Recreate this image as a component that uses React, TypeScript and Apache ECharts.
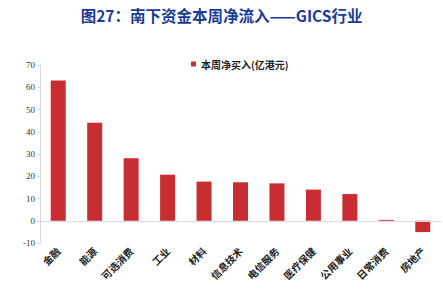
import React, { useEffect, useRef } from "react";
import * as echarts from "echarts";

const categories = ["金融", "能源", "可选消费", "工业", "材料", "信息技术", "电信服务", "医疗保健", "公用事业", "日常消费", "房地产"];
const netBuy = [63.0, 44.0, 28.1, 20.7, 17.6, 17.3, 16.8, 14.0, 12.0, 0.4, -5.1];
const seriesName = "本周净买入(亿港元)";
const titleText = "图27：南下资金本周净流入——GICS行业";

export default function App() {
  const ref = useRef<HTMLDivElement>(null);
  useEffect(() => {
    document.body.style.margin = "0";
    const chart = echarts.init(ref.current!, null, { renderer: "svg" });
    chart.setOption({
      animation: false,
      backgroundColor: "#ffffff",
      title: {
        text: titleText,
        left: "center",
        top: 2,
        textStyle: { fontFamily: "Noto Sans CJK SC", fontSize: 15.5, fontWeight: "bold", color: "#1c3c94" },
      },
      legend: {
        data: [seriesName],
        left: 186,
        top: 54,
        itemWidth: 5,
        itemHeight: 5,
        itemGap: 4,
        icon: "rect",
        textStyle: { fontFamily: "Noto Sans CJK SC", fontSize: 10, fontWeight: "bold", color: "#222" },
      },
      grid: { left: 40, right: 2, top: 65, bottom: 52, containLabel: false },
      xAxis: {
        type: "category",
        data: categories,
        axisLine: { show: false, onZero: false },
        axisTick: { show: false },
        axisLabel: {
          rotate: 45,
          margin: 6,
          interval: 0,
          fontFamily: "Noto Sans CJK SC",
          fontSize: 10,
          fontWeight: "bold",
          color: "#222",
        },
      },
      yAxis: {
        type: "value",
        min: -10,
        max: 70,
        interval: 10,
        splitLine: { show: false },
        axisLine: { show: true, lineStyle: { color: "#d9d9d9" } },
        axisTick: { show: true, length: 3, lineStyle: { color: "#d9d9d9" } },
        axisLabel: { fontFamily: "Liberation Serif", fontSize: 9, color: "#333", margin: 5 },
      },
      series: [
        {
          name: seriesName,
          type: "bar",
          data: netBuy,
          barWidth: 15,
          itemStyle: { color: "#c82d32" },
          markLine: {
            silent: true,
            symbol: "none",
            label: { show: false },
            lineStyle: { color: "#d9d9d9", type: "solid", width: 1 },
            data: [{ yAxis: 0 }],
          },
        },
      ],
    });
    return () => chart.dispose();
  }, []);
  return <div ref={ref} style={{ width: 443, height: 295 }} />;
}
